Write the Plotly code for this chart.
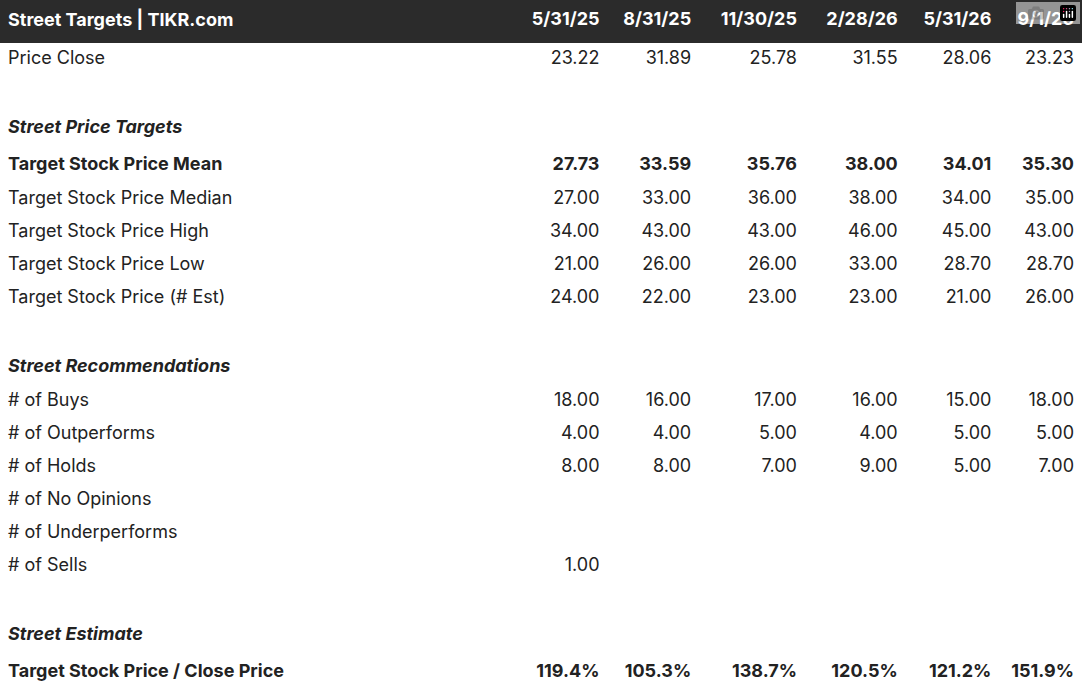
import plotly.graph_objects as go

dates = ["5/31/25", "8/31/25", "11/30/25", "2/28/26", "5/31/26", "9/1/26"]

price_close = ["23.22", "31.89", "25.78", "31.55", "28.06", "23.23"]
target_mean = ["27.73", "33.59", "35.76", "38.00", "34.01", "35.30"]
target_median = ["27.00", "33.00", "36.00", "38.00", "34.00", "35.00"]
target_high = ["34.00", "43.00", "43.00", "46.00", "45.00", "43.00"]
target_low = ["21.00", "26.00", "26.00", "33.00", "28.70", "28.70"]
target_est = ["24.00", "22.00", "23.00", "23.00", "21.00", "26.00"]
buys = ["18.00", "16.00", "17.00", "16.00", "15.00", "18.00"]
outperforms = ["4.00", "4.00", "5.00", "4.00", "5.00", "5.00"]
holds = ["8.00", "8.00", "7.00", "9.00", "5.00", "7.00"]
no_opinions = ["", "", "", "", "", ""]
underperforms = ["", "", "", "", "", ""]
sells = ["1.00", "", "", "", "", ""]
target_to_close = ["119.4%", "105.3%", "138.7%", "120.5%", "121.2%", "151.9%"]

blank = [""] * 6
# (label, values, style)
rows = [
    ("Price Close", price_close, ""),
    ("", blank, ""),
    ("Street Price Targets", blank, "section"),
    ("Target Stock Price Mean", target_mean, "bold"),
    ("Target Stock Price Median", target_median, ""),
    ("Target Stock Price High", target_high, ""),
    ("Target Stock Price Low", target_low, ""),
    ("Target Stock Price (# Est)", target_est, ""),
    ("", blank, ""),
    ("Street Recommendations", blank, "section"),
    ("# of Buys", buys, ""),
    ("# of Outperforms", outperforms, ""),
    ("# of Holds", holds, ""),
    ("# of No Opinions", no_opinions, ""),
    ("# of Underperforms", underperforms, ""),
    ("# of Sells", sells, ""),
    ("", blank, ""),
    ("Street Estimate", blank, "section"),
    ("Target Stock Price / Close Price", target_to_close, "bold"),
]


def fmt(s, style):
    if not s:
        return s
    if style == "section":
        return f"<b><i>{s}</i></b>"
    if style == "bold":
        return f"<b>{s}</b>"
    return s


columns = [[fmt(r[0], r[2]) for r in rows]]
for i in range(len(dates)):
    columns.append([fmt(r[1][i], r[2]) for r in rows])

fig = go.Figure(go.Table(
    columnwidth=[510, 93, 91, 105, 100, 93, 82],
    header=dict(
        values=["<b>Street Targets | TIKR.com</b>"] + [f"<b>{d}</b>" for d in dates],
        fill_color="#2b2b2b",
        line_color="#2b2b2b",
        font=dict(color="white", size=18, family="Inter"),
        align=["left"] + ["right"] * 6,
        height=42,
    ),
    cells=dict(
        values=columns,
        fill_color="white",
        line_color="white",
        font=dict(color="#222222", size=18, family="Inter"),
        align=["left"] + ["right"] * 6,
        height=33,
    ),
))
fig.update_layout(width=1082, height=686, margin=dict(l=0, r=0, t=0, b=0),
                  paper_bgcolor="white")
fig.write_html("out.html", post_script="document.body.style.margin='0';")
